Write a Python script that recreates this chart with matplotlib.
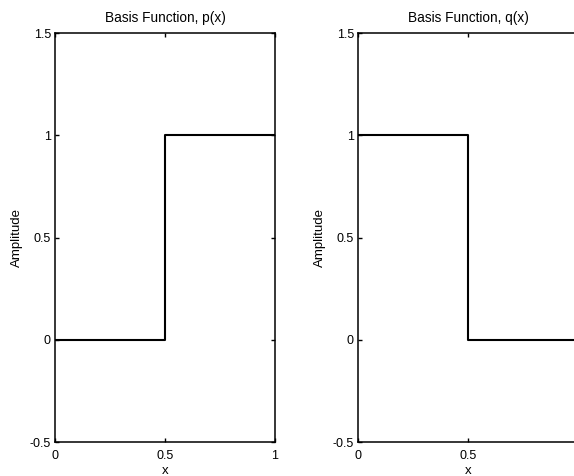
import matplotlib
matplotlib.use("Agg")
import matplotlib.pyplot as plt

# Haar-type basis functions on [0, 1], sampled at their break points
x_breaks = [0, 0.5, 1]
p_vals = [0, 1, 1]
q_vals = [1, 0, 0]

x_ticks = [0, 0.5, 1]
x_ticklabels = ['0', '0.5', '1']
y_ticks = [-0.5, 0, 0.5, 1, 1.5]
y_ticklabels = ['-0.5', '0', '0.5', '1', '1.5']

titles = ['Basis Function, p(x)', 'Basis Function, q(x)']

plt.rcParams['font.family'] = ['Liberation Sans', 'DejaVu Sans']

fig = plt.figure(figsize=(5.74, 4.76), dpi=100)
# second panel runs slightly past the right edge of the page
ax1 = fig.add_axes([0.0958, 0.0714, 0.3833, 0.859])
ax2 = fig.add_axes([0.6237, 0.0714, 0.3833, 0.859])

for ax, vals, title in zip([ax1, ax2], [p_vals, q_vals], titles):
    ax.step(x_breaks, vals, where='post', color='black', lw=1.5)
    ax.set_xlim(0, 1)
    ax.set_ylim(-0.5, 1.5)
    ax.set_xticks(x_ticks)
    ax.set_xticklabels(x_ticklabels)
    ax.set_yticks(y_ticks)
    ax.set_yticklabels(y_ticklabels)
    ax.tick_params(direction='in', length=3, width=1.0, top=True, right=True,
                   labelsize=9, colors='black')
    ax.tick_params(axis='x', pad=6)
    ax.tick_params(axis='y', pad=3)
    for s in ax.spines.values():
        s.set_linewidth(1.1)
    ax.set_title(title, fontsize=9.8, pad=8)
    ax.set_xlabel('x', fontsize=9.5, labelpad=2)
    ax.set_ylabel('Amplitude', fontsize=9.5, labelpad=5)

# the last x label of the right panel falls off the page
ax2.set_xticklabels(x_ticklabels[:-1] + [''])

fig.savefig('out.png', dpi=100)
